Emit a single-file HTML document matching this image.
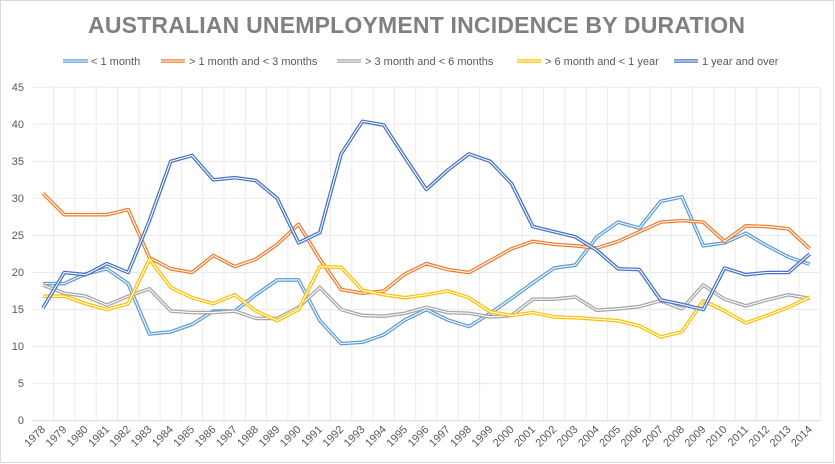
<!DOCTYPE html>
<html><head><meta charset="utf-8"><style>
html,body{margin:0;padding:0;background:#fff}
svg{display:block;font-family:"Liberation Sans",sans-serif}
</style></head><body>
<svg width="835" height="464" viewBox="0 0 835 464">
<rect x="0.5" y="0.5" width="833" height="462" fill="#fff" stroke="#d9d9d9"/>
<text x="88" y="33" font-size="23" font-weight="bold" fill="#808080" textLength="657" lengthAdjust="spacing">AUSTRALIAN UNEMPLOYMENT INCIDENCE BY DURATION</text>
<g font-size="11" fill="#595959">
<line x1="63" y1="61" x2="88" y2="61" stroke="#5B9BD5" stroke-width="3.4"/><line x1="63" y1="61" x2="88" y2="61" stroke="#fff" stroke-width="1"/>
<text x="91" y="65">&lt; 1 month</text>
<line x1="161" y1="61" x2="185" y2="61" stroke="#ED7D31" stroke-width="3.4"/><line x1="161" y1="61" x2="185" y2="61" stroke="#fff" stroke-width="1"/>
<text x="189" y="65">&gt; 1 month and &lt; 3 months</text>
<line x1="337" y1="61" x2="361" y2="61" stroke="#A5A5A5" stroke-width="3.4"/><line x1="337" y1="61" x2="361" y2="61" stroke="#fff" stroke-width="1"/>
<text x="365" y="65">&gt; 3 month and &lt; 6 months</text>
<line x1="517" y1="61" x2="541" y2="61" stroke="#FFC000" stroke-width="3.4"/><line x1="517" y1="61" x2="541" y2="61" stroke="#fff" stroke-width="1"/>
<text x="545" y="65">&gt; 6 month and &lt; 1 year</text>
<line x1="674" y1="61" x2="698" y2="61" stroke="#4472C4" stroke-width="3.4"/><line x1="674" y1="61" x2="698" y2="61" stroke="#fff" stroke-width="1"/>
<text x="702" y="65">1 year and over</text>
</g>
<g font-size="11" fill="#595959" text-anchor="end">
<text x="24" y="91">45</text><text x="24" y="128">40</text><text x="24" y="165">35</text><text x="24" y="202">30</text><text x="24" y="239">25</text><text x="24" y="276">20</text><text x="24" y="313">15</text><text x="24" y="350">10</text><text x="24" y="387">5</text><text x="24" y="424">0</text>
</g>
<g transform="translate(42.95,420.7) scale(21.3,-7.41)" fill="none">
<path vector-effect="non-scaling-stroke" stroke="#ebebeb" stroke-width="1" d="M-0.5,5H36.5M-0.5,10H36.5M-0.5,15H36.5M-0.5,20H36.5M-0.5,25H36.5M-0.5,30H36.5M-0.5,35H36.5M-0.5,40H36.5M-0.5,45H36.5
M0.5,0V45M1.5,0V45M2.5,0V45M3.5,0V45M4.5,0V45M5.5,0V45M6.5,0V45M7.5,0V45M8.5,0V45M9.5,0V45M10.5,0V45M11.5,0V45M12.5,0V45M13.5,0V45M14.5,0V45M15.5,0V45M16.5,0V45M17.5,0V45M18.5,0V45M19.5,0V45M20.5,0V45M21.5,0V45M22.5,0V45M23.5,0V45M24.5,0V45M25.5,0V45M26.5,0V45M27.5,0V45M28.5,0V45M29.5,0V45M30.5,0V45M31.5,0V45M32.5,0V45M33.5,0V45M34.5,0V45M35.5,0V45M36.5,0V45"/>
<path vector-effect="non-scaling-stroke" stroke="#d9d9d9" stroke-width="1" d="M-0.5,0H36.5"/>
<g stroke-linejoin="round">
<polyline vector-effect="non-scaling-stroke" stroke="#5B9BD5" stroke-width="3.6" points="0,18.5 1,18.5 2,19.8 3,20.5 4,18.5 5,11.7 6,12 7,13 8,14.8 9,14.8 10,17 11,19 12,19 13,13.5 14,10.4 15,10.6 16,11.6 17,13.6 18,15 19,13.6 20,12.7 21,14.5 22,16.5 23,18.6 24,20.6 25,21 26,24.8 27,26.8 28,26 29,29.6 30,30.2 31,23.6 32,24 33,25.3 34,23.6 35,22.1 36,21.1"/>
<polyline vector-effect="non-scaling-stroke" stroke="#fff" stroke-width="1.1" points="0,18.5 1,18.5 2,19.8 3,20.5 4,18.5 5,11.7 6,12 7,13 8,14.8 9,14.8 10,17 11,19 12,19 13,13.5 14,10.4 15,10.6 16,11.6 17,13.6 18,15 19,13.6 20,12.7 21,14.5 22,16.5 23,18.6 24,20.6 25,21 26,24.8 27,26.8 28,26 29,29.6 30,30.2 31,23.6 32,24 33,25.3 34,23.6 35,22.1 36,21.1"/>
<polyline vector-effect="non-scaling-stroke" stroke="#ED7D31" stroke-width="3.6" points="0,30.7 1,27.8 2,27.8 3,27.8 4,28.5 5,22 6,20.5 7,20 8,22.3 9,20.8 10,21.8 11,23.8 12,26.5 13,21.8 14,17.7 15,17.2 16,17.5 17,19.8 18,21.2 19,20.4 20,20 21,21.6 22,23.2 23,24.2 24,23.8 25,23.6 26,23.3 27,24.2 28,25.5 29,26.8 30,27 31,26.8 32,24.2 33,26.3 34,26.2 35,25.9 36,23.2"/>
<polyline vector-effect="non-scaling-stroke" stroke="#fff" stroke-width="1.1" points="0,30.7 1,27.8 2,27.8 3,27.8 4,28.5 5,22 6,20.5 7,20 8,22.3 9,20.8 10,21.8 11,23.8 12,26.5 13,21.8 14,17.7 15,17.2 16,17.5 17,19.8 18,21.2 19,20.4 20,20 21,21.6 22,23.2 23,24.2 24,23.8 25,23.6 26,23.3 27,24.2 28,25.5 29,26.8 30,27 31,26.8 32,24.2 33,26.3 34,26.2 35,25.9 36,23.2"/>
<polyline vector-effect="non-scaling-stroke" stroke="#A5A5A5" stroke-width="3.6" points="0,18.3 1,17.2 2,16.8 3,15.6 4,16.8 5,17.8 6,14.8 7,14.6 8,14.6 9,14.8 10,13.8 11,13.8 12,15.3 13,18 14,15 15,14.2 16,14.1 17,14.5 18,15.3 19,14.6 20,14.5 21,14 22,14.2 23,16.4 24,16.4 25,16.7 26,14.9 27,15.1 28,15.4 29,16.2 30,15.1 31,18.3 32,16.4 33,15.5 34,16.3 35,17 36,16.5"/>
<polyline vector-effect="non-scaling-stroke" stroke="#fff" stroke-width="1.1" points="0,18.3 1,17.2 2,16.8 3,15.6 4,16.8 5,17.8 6,14.8 7,14.6 8,14.6 9,14.8 10,13.8 11,13.8 12,15.3 13,18 14,15 15,14.2 16,14.1 17,14.5 18,15.3 19,14.6 20,14.5 21,14 22,14.2 23,16.4 24,16.4 25,16.7 26,14.9 27,15.1 28,15.4 29,16.2 30,15.1 31,18.3 32,16.4 33,15.5 34,16.3 35,17 36,16.5"/>
<polyline vector-effect="non-scaling-stroke" stroke="#FFC000" stroke-width="3.6" points="0,16.8 1,16.8 2,15.8 3,15 4,15.8 5,21.8 6,18 7,16.6 8,15.8 9,17 10,14.8 11,13.5 12,15 13,20.8 14,20.7 15,17.6 16,17 17,16.6 18,17 19,17.5 20,16.6 21,14.7 22,14.2 23,14.6 24,14 25,13.9 26,13.7 27,13.5 28,12.8 29,11.3 30,12 31,16.2 32,14.8 33,13.2 34,14.2 35,15.3 36,16.7"/>
<polyline vector-effect="non-scaling-stroke" stroke="#fff" stroke-width="1.1" points="0,16.8 1,16.8 2,15.8 3,15 4,15.8 5,21.8 6,18 7,16.6 8,15.8 9,17 10,14.8 11,13.5 12,15 13,20.8 14,20.7 15,17.6 16,17 17,16.6 18,17 19,17.5 20,16.6 21,14.7 22,14.2 23,14.6 24,14 25,13.9 26,13.7 27,13.5 28,12.8 29,11.3 30,12 31,16.2 32,14.8 33,13.2 34,14.2 35,15.3 36,16.7"/>
<polyline vector-effect="non-scaling-stroke" stroke="#4472C4" stroke-width="3.6" points="0,15.2 1,20 2,19.7 3,21.2 4,20 5,27 6,35 7,35.8 8,32.5 9,32.8 10,32.4 11,30 12,24 13,25.4 14,36 15,40.4 16,39.9 17,35.5 18,31.2 19,33.8 20,36 21,35 22,32 23,26.2 24,25.5 25,24.8 26,23 27,20.5 28,20.4 29,16.3 30,15.7 31,15 32,20.6 33,19.7 34,20 35,20 36,22.5"/>
<polyline vector-effect="non-scaling-stroke" stroke="#fff" stroke-width="1.1" points="0,15.2 1,20 2,19.7 3,21.2 4,20 5,27 6,35 7,35.8 8,32.5 9,32.8 10,32.4 11,30 12,24 13,25.4 14,36 15,40.4 16,39.9 17,35.5 18,31.2 19,33.8 20,36 21,35 22,32 23,26.2 24,25.5 25,24.8 26,23 27,20.5 28,20.4 29,16.3 30,15.7 31,15 32,20.6 33,19.7 34,20 35,20 36,22.5"/>
</g>
</g>
<g font-size="11" fill="#595959" text-anchor="end">
<text transform="translate(46,430) rotate(-45)">1978</text>
<text transform="translate(67.3,430) rotate(-45)">1979</text>
<text transform="translate(88.6,430) rotate(-45)">1980</text>
<text transform="translate(109.9,430) rotate(-45)">1981</text>
<text transform="translate(131.2,430) rotate(-45)">1982</text>
<text transform="translate(152.5,430) rotate(-45)">1983</text>
<text transform="translate(173.8,430) rotate(-45)">1984</text>
<text transform="translate(195.1,430) rotate(-45)">1985</text>
<text transform="translate(216.4,430) rotate(-45)">1986</text>
<text transform="translate(237.7,430) rotate(-45)">1987</text>
<text transform="translate(259,430) rotate(-45)">1988</text>
<text transform="translate(280.3,430) rotate(-45)">1989</text>
<text transform="translate(301.6,430) rotate(-45)">1990</text>
<text transform="translate(322.9,430) rotate(-45)">1991</text>
<text transform="translate(344.2,430) rotate(-45)">1992</text>
<text transform="translate(365.5,430) rotate(-45)">1993</text>
<text transform="translate(386.8,430) rotate(-45)">1994</text>
<text transform="translate(408.1,430) rotate(-45)">1995</text>
<text transform="translate(429.4,430) rotate(-45)">1996</text>
<text transform="translate(450.7,430) rotate(-45)">1997</text>
<text transform="translate(472,430) rotate(-45)">1998</text>
<text transform="translate(493.3,430) rotate(-45)">1999</text>
<text transform="translate(514.6,430) rotate(-45)">2000</text>
<text transform="translate(535.9,430) rotate(-45)">2001</text>
<text transform="translate(557.2,430) rotate(-45)">2002</text>
<text transform="translate(578.5,430) rotate(-45)">2003</text>
<text transform="translate(599.8,430) rotate(-45)">2004</text>
<text transform="translate(621.1,430) rotate(-45)">2005</text>
<text transform="translate(642.4,430) rotate(-45)">2006</text>
<text transform="translate(663.7,430) rotate(-45)">2007</text>
<text transform="translate(685,430) rotate(-45)">2008</text>
<text transform="translate(706.3,430) rotate(-45)">2009</text>
<text transform="translate(727.6,430) rotate(-45)">2010</text>
<text transform="translate(748.9,430) rotate(-45)">2011</text>
<text transform="translate(770.2,430) rotate(-45)">2012</text>
<text transform="translate(791.5,430) rotate(-45)">2013</text>
<text transform="translate(812.8,430) rotate(-45)">2014</text>
</g>
</svg>
</body></html>
